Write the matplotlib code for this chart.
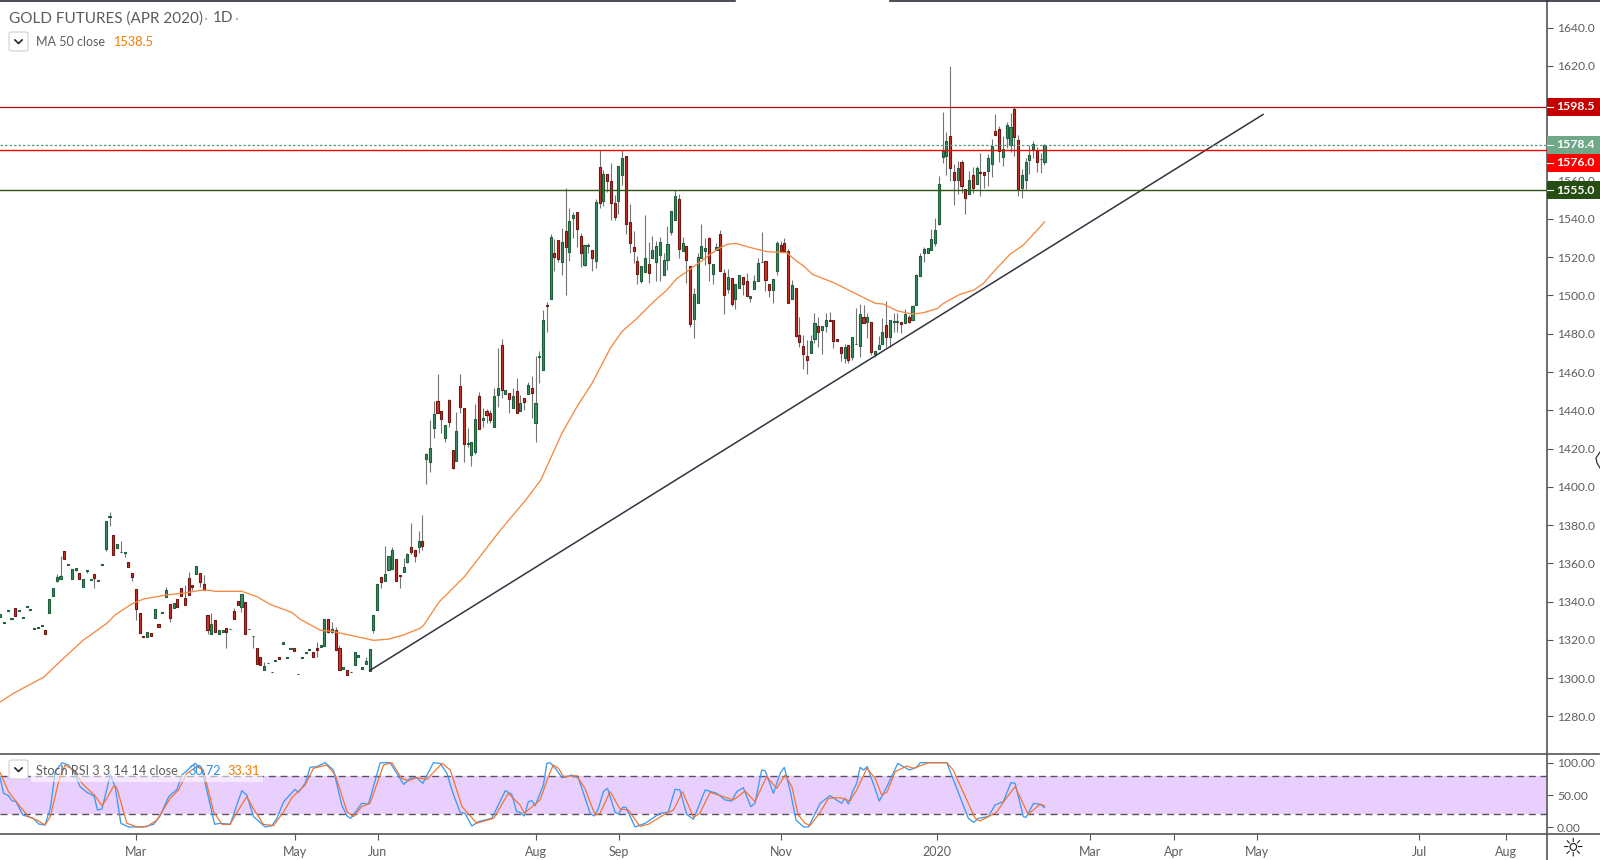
import matplotlib
matplotlib.use("Agg")
import matplotlib.pyplot as plt
from matplotlib.lines import Line2D
from matplotlib.patches import Rectangle, FancyBboxPatch

plt.rcParams['font.family'] = ['Lato', 'DejaVu Sans']

#%% Data #####################################################################
opens = [
    1332.2,1329.0,1335.3,1331.1,1336.5,1335.3,1331.7,1337.4,1335.8,1325.9,
    1326.4,1327.5,1325.0,1333.9,1343.2,1351.0,1352.0,1366.3,1359.4,1352.0,
    1356.6,1354.8,1347.5,1356.2,1351.5,1354.3,1351.0,1359.4,1367.4,1384.4,
    1374.7,1368.3,1365.9,1365.6,1360.6,1354.8,1346.5,1333.9,1321.8,1321.7,
    1323.5,1331.3,1328.2,1334.3,1342.3,1338.6,1336.5,1341.3,1347.0,1341.8,
    1352.2,1348.6,1354.7,1354.8,1349.1,1332.9,1323.0,1330.3,1323.0,1324.0,
    1326.1,1325.5,1335.0,1340.2,1337.4,1339.7,1325.5,1322.0,1315.6,1310.9,
    1304.2,1307.7,1303.0,1309.2,1310.9,1317.8,1310.8,1315.5,1315.6,1302.0,
    1310.8,1313.4,1315.0,1313.6,1315.6,1316.2,1316.7,1330.8,1324.0,1325.1,
    1315.6,1304.7,1304.2,1303.0,1306.8,1310.9,1304.7,1307.3,1303.6,1325.1,
    1335.5,1353.1,1350.7,1356.4,1356.9,1362.1,1353.8,1355.4,1360.6,1368.4,
    1366.9,1368.4,1371.7,1414.4,1412.8,1430.6,1444.7,1439.4,1425.3,1445.2,
    1419.0,1413.3,1452.5,1441.0,1422.2,1416.4,1418.0,1447.3,1434.7,1439.4,
    1438.4,1431.1,1447.8,1473.9,1448.3,1448.8,1441.0,1449.9,1439.4,1446.2,
    1448.3,1451.9,1433.2,1468.0,1460.9,1494.9,1498.0,1522.0,1528.8,1517.3,
    1533.5,1522.5,1540.3,1543.4,1530.9,1515.7,1526.1,1523.6,1517.8,1566.9,
    1549.2,1563.3,1559.6,1548.1,1549.2,1562.7,1572.7,1538.2,1525.1,1517.8,
    1507.4,1512.1,1516.2,1519.4,1517.3,1520.9,1510.5,1518.3,1533.0,1539.7,
    1550.2,1523.0,1525.6,1515.2,1487.5,1495.9,1519.4,1523.5,1529.8,1511.0,
    1523.6,1531.9,1511.5,1503.2,1508.9,1498.3,1503.7,1509.4,1507.4,1498.5,
    1503.2,1507.4,1517.5,1517.8,1505.8,1502.7,1512.6,1526.2,1527.2,1523.5,
    1497.9,1503.7,1479.1,1473.4,1468.2,1470.1,1477.1,1483.8,1481.8,1483.8,
    1487.0,1487.0,1477.1,1472.9,1467.1,1473.9,1467.6,1474.4,1473.4,1488.5,
    1486.4,1486.4,1469.2,1471.8,1474.4,1484.4,1478.1,1486.3,1486.3,1486.4,
    1485.4,1488.5,1487.0,1495.2,1510.0,1522.0,1522.0,1523.6,1527.2,1537.6,
    1572.1,1573.0,1583.1,1564.3,1560.1,1569.5,1555.4,1552.8,1562.7,1558.0,
    1564.3,1564.3,1564.8,1568.5,1586.2,1586.8,1572.1,1582.1,1578.8,1597.7,
    1581.5,1555.9,1560.1,1570.6,1576.3,1575.3,1571.2,1569.5]
closes = [
    1333.4,1329.2,1335.5,1331.3,1332.7,1335.5,1331.9,1337.6,1336.0,1326.1,
    1326.6,1327.7,1322.9,1341.3,1347.0,1352.7,1353.3,1362.5,1359.6,1356.9,
    1357.4,1352.0,1351.7,1356.4,1351.7,1352.6,1351.2,1359.6,1382.0,1385.0,
    1364.6,1370.0,1366.2,1365.9,1358.3,1353.1,1336.0,1323.8,1321.5,1324.0,
    1322.3,1336.0,1327.0,1334.5,1346.0,1331.3,1339.2,1337.4,1343.2,1338.0,
    1343.3,1347.9,1358.5,1350.5,1345.9,1325.1,1328.2,1324.0,1325.1,1325.1,
    1324.0,1325.7,1331.1,1338.1,1343.9,1323.0,1325.7,1322.2,1307.3,1306.8,
    1306.2,1307.9,1303.2,1309.4,1309.9,1318.8,1311.0,1315.7,1314.1,1302.2,
    1311.0,1313.6,1315.2,1310.9,1315.0,1317.2,1330.8,1324.4,1325.6,1314.6,
    1304.2,1305.7,1301.5,1303.2,1313.6,1312.0,1305.7,1308.9,1315.1,1332.9,
    1349.1,1350.1,1354.3,1363.7,1366.9,1350.7,1353.3,1358.0,1364.8,1365.8,
    1363.7,1371.6,1369.1,1417.0,1420.1,1437.9,1438.4,1435.3,1432.1,1434.0,
    1410.0,1429.0,1441.9,1422.2,1422.9,1423.2,1435.3,1430.0,1435.8,1437.3,
    1434.7,1447.3,1451.9,1450.4,1450.4,1445.7,1447.3,1438.4,1443.6,1444.1,
    1453.0,1448.8,1443.6,1468.2,1487.0,1494.6,1530.3,1520.2,1519.2,1527.7,
    1525.1,1538.7,1541.8,1534.5,1522.0,1526.2,1526.3,1519.4,1548.6,1548.1,
    1563.3,1560.0,1548.1,1540.8,1567.4,1571.6,1537.1,1527.2,1523.0,1511.0,
    1515.2,1519.4,1511.5,1523.6,1525.6,1527.7,1518.3,1526.7,1543.9,1551.8,
    1524.1,1527.2,1518.3,1484.9,1500.6,1519.9,1525.6,1524.6,1516.8,1516.2,
    1525.1,1512.9,1500.4,1509.4,1495.7,1505.8,1510.5,1505.8,1499.9,1499.5,
    1507.4,1516.8,1517.7,1507.9,1502.7,1508.4,1527.2,1523.2,1523.5,1495.9,
    1505.3,1478.6,1475.5,1469.2,1466.1,1476.0,1485.4,1480.7,1483.8,1487.0,
    1486.7,1476.0,1476.0,1469.7,1472.9,1466.1,1478.1,1474.6,1490.1,1485.4,
    1488.5,1470.3,1470.8,1473.9,1480.7,1478.1,1487.0,1486.5,1486.5,1484.9,
    1490.1,1486.4,1494.3,1510.5,1520.4,1524.1,1524.6,1529.3,1534.0,1558.5,
    1575.4,1580.5,1566.4,1560.6,1566.4,1557.0,1550.7,1560.1,1556.4,1566.4,
    1564.0,1562.7,1571.6,1577.9,1583.6,1575.3,1576.3,1588.9,1587.8,1582.6,
    1555.4,1562.7,1570.0,1573.2,1579.4,1570.0,1571.5,1578.4]
highs = [
    1333.4,1329.2,1335.5,1331.3,1336.5,1335.5,1331.9,1337.6,1336.0,1326.1,
    1326.6,1327.7,1325.0,1341.3,1347.0,1354.3,1363.9,1366.3,1359.6,1356.9,
    1357.4,1354.8,1351.7,1356.4,1351.7,1354.3,1351.2,1359.6,1382.0,1386.7,
    1374.7,1370.0,1371.7,1365.9,1360.6,1354.8,1346.5,1333.9,1321.8,1324.0,
    1323.5,1336.0,1328.2,1334.5,1347.7,1338.6,1339.2,1341.3,1347.0,1348.7,
    1355.4,1348.6,1358.5,1354.8,1354.0,1332.9,1333.9,1330.3,1325.1,1325.1,
    1326.1,1325.7,1336.5,1340.2,1343.9,1339.7,1325.7,1322.2,1315.6,1310.9,
    1308.3,1307.9,1303.2,1309.4,1310.9,1318.8,1311.0,1315.7,1315.6,1302.2,
    1311.0,1313.6,1315.2,1313.6,1318.8,1317.2,1330.8,1330.8,1329.2,1327.0,
    1317.4,1305.7,1304.2,1303.2,1313.6,1312.0,1305.7,1310.9,1315.1,1332.9,
    1349.1,1353.1,1369.1,1363.7,1368.4,1362.1,1353.8,1362.7,1365.5,1381.0,
    1366.9,1377.0,1385.3,1417.5,1434.9,1444.8,1458.9,1439.4,1432.1,1445.9,
    1419.0,1439.1,1458.9,1441.0,1430.5,1423.2,1443.3,1449.5,1441.0,1440.5,
    1440.1,1451.4,1472.3,1477.0,1450.4,1448.8,1451.4,1456.7,1448.0,1446.2,
    1454.9,1457.9,1468.3,1471.1,1492.4,1496.4,1532.1,1529.6,1528.8,1535.0,
    1556.0,1545.5,1543.8,1543.4,1532.4,1526.2,1527.6,1523.6,1550.2,1576.0,
    1565.5,1563.3,1569.0,1552.5,1567.4,1576.0,1572.7,1547.8,1533.6,1520.6,
    1515.2,1542.0,1528.1,1531.0,1528.4,1530.7,1522.0,1536.3,1543.9,1555.1,
    1553.0,1530.3,1525.6,1515.2,1503.7,1522.3,1537.3,1530.0,1530.7,1516.2,
    1527.2,1534.2,1513.6,1513.6,1508.9,1505.8,1510.5,1509.4,1511.5,1499.5,
    1510.7,1519.4,1533.0,1517.8,1505.8,1508.4,1528.4,1528.6,1529.8,1524.2,
    1508.1,1503.7,1488.5,1479.3,1476.7,1479.3,1490.6,1488.9,1483.8,1490.6,
    1491.5,1487.0,1477.1,1472.9,1474.6,1473.9,1478.1,1493.2,1495.5,1495.0,
    1490.6,1486.4,1470.8,1478.8,1488.4,1497.1,1487.0,1490.6,1490.6,1486.4,
    1492.7,1489.8,1495.0,1511.0,1522.0,1525.1,1524.6,1534.5,1540.3,1562.4,
    1596.0,1585.2,1619.9,1568.6,1570.2,1571.0,1555.4,1565.0,1567.3,1567.8,
    1574.7,1564.3,1573.9,1581.7,1594.6,1588.5,1583.3,1590.8,1595.6,1598.5,
    1584.1,1565.9,1571.6,1578.6,1580.7,1577.4,1574.2,1578.9]
lows = [
    1332.2,1329.0,1335.3,1331.1,1332.7,1335.3,1331.7,1337.4,1335.8,1325.9,
    1326.4,1327.5,1322.9,1333.9,1343.2,1350.5,1352.0,1362.1,1359.4,1352.0,
    1356.0,1352.0,1347.5,1355.2,1351.5,1347.0,1351.0,1359.4,1366.3,1379.7,
    1364.6,1368.3,1365.9,1363.5,1358.3,1351.0,1330.5,1323.8,1321.5,1321.7,
    1322.3,1331.3,1327.0,1334.3,1342.3,1329.6,1336.5,1337.4,1343.2,1338.0,
    1343.3,1346.1,1354.7,1347.9,1345.9,1323.1,1323.0,1324.0,1323.0,1324.0,
    1316.0,1325.5,1331.1,1338.1,1334.8,1323.0,1325.5,1316.0,1307.3,1306.8,
    1304.2,1307.7,1303.0,1309.2,1309.9,1317.8,1310.8,1315.5,1314.1,1302.0,
    1310.8,1313.4,1315.0,1310.9,1311.3,1316.2,1316.7,1323.5,1323.5,1314.6,
    1304.2,1304.7,1301.5,1303.0,1306.8,1310.9,1304.7,1307.3,1303.6,1323.8,
    1335.5,1347.3,1350.7,1356.4,1356.9,1350.7,1347.0,1355.4,1360.0,1365.0,
    1360.9,1365.6,1367.0,1401.5,1407.9,1425.7,1438.4,1427.9,1423.6,1431.1,
    1409.1,1413.3,1438.4,1413.1,1421.0,1411.0,1417.0,1430.0,1431.1,1433.2,
    1433.2,1431.1,1441.9,1446.2,1448.3,1438.7,1441.0,1438.4,1439.4,1440.1,
    1448.3,1435.8,1423.6,1454.4,1460.9,1481.0,1498.0,1512.8,1517.6,1510.7,
    1500.2,1518.2,1529.8,1525.5,1514.7,1515.4,1522.0,1512.9,1514.1,1545.8,
    1546.7,1554.2,1539.7,1539.7,1542.5,1557.7,1532.1,1522.0,1516.8,1505.8,
    1506.3,1512.1,1506.3,1519.4,1507.7,1507.7,1510.5,1513.3,1531.6,1539.7,
    1519.5,1523.0,1506.3,1483.7,1477.9,1495.9,1519.4,1516.0,1507.7,1506.0,
    1523.6,1512.9,1490.1,1501.1,1494.6,1492.7,1503.7,1500.2,1499.9,1496.7,
    1503.2,1507.4,1517.5,1502.5,1499.0,1495.9,1510.7,1523.2,1523.5,1495.9,
    1497.9,1478.4,1473.2,1461.4,1458.8,1470.1,1475.0,1473.0,1469.4,1481.0,
    1486.7,1472.3,1476.0,1466.0,1464.5,1464.5,1466.3,1474.4,1468.0,1485.4,
    1478.0,1468.9,1468.0,1471.8,1474.4,1473.0,1473.2,1481.0,1481.0,1480.2,
    1485.4,1485.4,1487.0,1495.2,1510.0,1517.6,1522.0,1523.6,1525.8,1536.8,
    1569.0,1562.9,1559.9,1547.2,1552.8,1553.3,1542.7,1552.8,1553.7,1558.0,
    1552.1,1556.3,1557.3,1562.0,1583.6,1569.9,1567.8,1577.0,1574.9,1573.0,
    1552.1,1550.7,1555.6,1563.6,1571.6,1564.6,1564.1,1568.1]

ma_bars = [0,3.5,11.5,16.8,22.1,28.3,30.5,34.9,38,44.2,49.5,53,55.7,57,64.1,68.1,71.6,
           77.4,79.6,84.9,88.4,93.7,99,103,107,111.4,112.3,116.4,123.2,132.6,139.4,143.4,
           149,153,157,161.8,164.9,168.9,173.3,176.8,179.5,182.1,185.7,190.1,192.8,195,
           198.9,203.4,208.7,210.9,213.1,215.5,221,226.8,232.1,234.3,237.9,241.8,244.9,
           248.6,250.2,254.6,258.2,260.8,263.5,267.9,271.3,275.9,277]
ma_vals = [1287.6,1292.1,1300.5,1310.4,1320,1328.7,1333.1,1338.8,1341.4,1343.5,1344.7,1345.9,
           1345.9,1345.4,1345.4,1342.6,1338.6,1334.3,1330.8,1325.1,1324.4,1322.1,1319.8,1320.4,
           1322.6,1326.1,1327.6,1339.8,1353.2,1377.2,1393.1,1403.6,1428,1441.9,1454.1,1472.3,
           1481.1,1488,1496.7,1502.8,1508.9,1512.4,1517.6,1524,1526.7,1527.2,1525.1,1522.9,
           1522.3,1518.5,1515.4,1511,1506.8,1501.1,1495.9,1495.5,1492,1490.3,1491,1493.2,
           1495.9,1500.6,1502.8,1506.3,1512.4,1521.6,1526.2,1535.9,1538.5]

k_bars = [0,0.9,2.2,3.1,4.2,6,8.8,10.2,11.9,13.3,14.6,16.4,18.1,19.6,21.2,23,24.9,25.8,27,
          29.2,30.5,32,34,38,40.7,42.4,44.7,46.9,48.2,51.7,53.5,55.3,56.9,58.4,61,64.1,65.4,
          67.2,70.3,72.1,73.4,75.2,78.2,79.1,80.9,82.2,84,86.2,88.4,90.6,92,93,95.9,97.7,
          100.8,103.4,105.2,107,108.8,110.5,112.1,114.9,116.7,118.5,120.1,122,123.3,125.1,
          126.9,130.4,134,135.7,137,137.9,139,140.1,141,141.9,144.1,145,145.9,147.6,149,
          150.3,151.6,153.4,156.5,157.5,158.7,160,161.1,163.1,164,165.1,166,168.4,171.1,
          175,177.2,179,180.3,182.1,183.9,187,190.1,192.3,194,195.4,197.1,199.1,200.2,202,
          202.9,205.1,206.9,208,209.5,211.1,213.1,214.4,217.5,220.1,223.2,224.1,225,226.3,
          227.2,228.1,229,230,233.2,235.2,238.1,239.1,241.2,243.1,244,251.1,256.8,258.2,
          259.5,262.1,263.9,266.1,268.1,269.2,271.4,272.1,274.1,275.9,277]
k_vals = [75.8,52.6,49,41.2,39.7,19,13.9,5.1,3.6,29.4,86.1,100,96.5,85.1,62.9,54.1,48.5,26.8,
          28.4,81,62.9,6.2,0.5,0.5,4.6,17.5,47.4,58.8,81,99,89.8,44.9,4.6,6.2,4.6,56.7,50,
          16.5,0.5,2.6,13.9,39.7,58.8,54.1,68.1,92.8,93.9,100,88.7,34.5,17.5,13.9,37.1,36.1,
          100,100,83.6,66.5,75.8,76.9,68.1,100,99,83.6,52.6,23.2,21.6,2,8.7,13.9,56.7,51,
          24.2,23.2,17.5,39.7,41.2,33.5,65.5,99,100,88.7,76.9,78.4,81,75.8,21.6,17.5,29.4,
          55.2,60.3,23.2,20.6,30.9,30.9,0.5,6.2,21.6,23.2,58.8,57.8,20.1,12.4,57.8,52.6,
          42.3,40.7,55.2,61.4,32,37.1,88.7,87.7,52.6,83.6,92.8,57.8,11.3,0.5,0.5,37.1,49,
          37.1,44.9,36.1,57.8,68.1,92.8,88.7,93.9,40.7,62.9,99,95.4,88.7,92.8,100,100,13.9,
          7.7,13.9,16.5,34.5,39.7,69.1,68.1,16.5,15.4,37.1,35.5,30.72]
d_bars = [0,2.2,5.3,7.5,9.7,11.9,13.3,15.5,17.2,19.5,21.7,25.2,27,28.3,30.1,30.9,33.6,36.3,
          38.9,41.6,45.1,47.3,49.5,52.2,53.9,56.6,58.8,61,63.2,65.4,67.2,69.8,72.5,75.2,77.4,
          80.9,83.1,86.6,88.9,92,93.7,95.9,98.1,101.7,103.9,106.5,108.3,110.5,113.2,117.2,
          119.4,122.5,126.4,130.9,134.8,137.9,139,143.2,145.4,146.7,148.1,149.4,152.9,155.1,
          157.8,159.1,161.8,164.4,166.6,169.7,171.9,175.9,178.6,181,183.9,185.6,188.3,194.5,
          197.6,200.2,203.3,206,208.2,210,211.7,213.5,214.8,217.5,219.7,222.8,225.4,227.2,
          229.9,232.1,233.8,235.2,237.4,240.5,242.2,246.2,251.1,252.8,258.6,259.9,264.3,
          266.5,269.2,272.7,275.9,277]
d_vals = [84.6,55.2,32,16.5,11.3,3.6,16.5,70.7,96.5,88.7,68.1,48.5,33.5,44.9,63.9,61.9,6.2,
          0.5,1,11.3,44.9,57.8,83.6,93.9,88.7,24.2,4.6,4.6,26.8,47.4,28.4,4.6,2.6,24.2,45.9,
          65.5,91.3,96.5,81,24.2,16.5,32,37.1,96.5,100,75.8,72.2,76.9,74.3,99,88.7,32,6.2,
          13.9,52.6,34.5,21.6,42.3,78.4,96.5,91.3,78.4,80,60.3,19,21.6,55.2,28.4,26.8,1.5,
          4.6,19,26.8,55.2,15.4,21.6,54.1,42.3,56.2,39.7,78.4,60.3,81,62.9,19,6.2,2.6,23.2,
          44.9,45.9,40.7,57.8,91.3,75.8,50,54.1,86.1,94.9,91.3,100,100,88.7,13.9,9.8,23.2,
          42.3,62.9,20.1,36,33.31]

trend_bars = [98, 335]
trend_vals = [1304, 1594.6]

price_ticks = list(range(1280, 1660, 20))
stoch_ticks = [0, 50, 100]
month_ticks = [36, 78.2, 100.2, 142.1, 164.1, 207.1, 248.5, 289, 311.4, 333.4, 376.4, 399.4]
month_labels = ['Mar', 'May', 'Jun', 'Aug', 'Sep', 'Nov', '2020', 'Mar', 'Apr', 'May', 'Jul', 'Aug']

# label text, y of the box centre in pixels, box colour
price_labels = ['1598.5', '1578.4', '1576.0', '1555.0']
label_rows = [107, 145, 163, 190]
label_colors = ['#C40000', '#6FA98A', '#FF0000', '#264D12']

#%% Figure ###################################################################
W, H = 1600, 860
TXT = '#5d5d5d'
LINE = '#555555'


def fx(px):
    return px / W


def fy(py):
    return 1 - py / H


fig = plt.figure(figsize=(W / 100, H / 100), dpi=100, facecolor='white')
ax = fig.add_axes([0, fy(754), 1547 / W, 754 / H])
sub = fig.add_axes([0, fy(834), 1547 / W, 80 / H])

bars = list(range(len(opens)))
up = [c >= o for o, c in zip(opens, closes)]
ax.vlines(bars, lows, highs, color='#757575', lw=0.8, zorder=2)
ax.bar(bars, [abs(c - o) for o, c in zip(opens, closes)], bottom=[min(o, c) for o, c in zip(opens, closes)],
       width=0.55, color=['#3E8E66' if u else '#C8372B' for u in up],
       edgecolor=['#1F5C3A' if u else '#701512' for u in up], linewidth=0.8, zorder=3)
ax.plot(ma_bars, ma_vals, color='#F58A42', lw=0.95, zorder=4)
ax.plot(trend_bars, trend_vals, color='#333340', lw=1.1, zorder=4)

ax.axhline(1598.5, color='#A80F0F', lw=0.9, zorder=5)
ax.axhline(1578.4, color='#5E9B7C', lw=0.9, ls=(0, (2, 1.6)), zorder=5)
ax.axhline(1576.0, color='#F00000', lw=1.0, zorder=5)
ax.axhline(1555.0, color='#2B5510', lw=1.0, zorder=5)

ax.set_xlim(-0.05, 410.3)
ax.set_ylim(1260.4, 1654.4)
sub.set_xlim(-0.05, 410.3)
sub.set_ylim(-10.4, 113.5)

sub.axhspan(20, 80, xmin=0, xmax=0.9994, color='#E9CFFD', lw=0, zorder=1)
sub.axhline(80, color='#5a5060', lw=1, ls=(0, (5, 3.4)), zorder=2)
sub.axhline(20, color='#5a5060', lw=1, ls=(0, (5, 3.4)), zorder=2)
sub.plot(k_bars, k_vals, color='#3D9BF2', lw=0.95, zorder=3)
sub.plot(d_bars, d_vals, color='#F2702A', lw=0.85, zorder=4)

for a in (ax, sub):
    for side in ('left', 'top', 'bottom'):
        a.spines[side].set_visible(False)
    a.spines['right'].set_color(LINE)
    a.spines['right'].set_linewidth(1.2)
    a.yaxis.tick_right()
    a.tick_params(axis='y', length=4.2, width=0.8, color=LINE, labelcolor=TXT, labelsize=8.7, pad=3)

ax.set_xticks([])
ax.set_yticks(price_ticks)
ax.set_yticklabels(['%.1f' % p for p in price_ticks])
sub.set_yticks(stoch_ticks)
sub.set_yticklabels(['%.2f' % s for s in stoch_ticks])
sub.set_xticks(month_ticks)
sub.set_xticklabels(month_labels)
sub.tick_params(axis='x', length=4, width=0.8, color=LINE, labelcolor=TXT, labelsize=9, pad=5)

# frame lines outside the panes
frame = [([0, W], [754, 754], LINE), ([0, W], [834, 834], LINE), ([1547, 1547], [834, H], LINE),
         ([0, 735], [0.5, 0.5], '#2a2e39'), ([890, W], [0.5, 0.5], '#2a2e39')]
for xs, ys, col in frame:
    fig.add_artist(Line2D([fx(v) for v in xs], [fy(v) for v in ys], color=col, lw=1.2, zorder=6))

# price labels on the scale
for text, row, col in zip(price_labels, label_rows, label_colors):
    fig.add_artist(Rectangle((fx(1547), fy(row + 9)), 53 / W, 18 / H, color=col, lw=0, zorder=7))
    fig.add_artist(Line2D([fx(1547), fx(1553)], [fy(row), fy(row)], color='white', lw=0.8, zorder=8))
    fig.text(fx(1556.5), fy(row), text, color='white', fontsize=8.8, fontweight='bold', va='center', zorder=8)

# legends
fig.text(fx(9), fy(18.5), 'GOLD FUTURES (APR 2020)', color=TXT, fontsize=11, va='center')
fig.text(fx(203), fy(18.5), '·', color='#aaaaaa', fontsize=11, va='center')
fig.text(fx(213), fy(18.5), '1D', color=TXT, fontsize=11, va='center')
fig.text(fx(234), fy(18.5), '·', color='#aaaaaa', fontsize=11, va='center')
fig.text(fx(36), fy(41.5), 'MA 50 close', color=TXT, fontsize=9, va='center')
fig.text(fx(113), fy(41.5), '1538.5', color='#F57C00', fontsize=9.2, va='center')

fig.add_artist(Rectangle((fx(31), fy(782)), 232 / W, 7 / H, color='white', alpha=0.55, lw=0, zorder=6))
fig.text(fx(36), fy(771), 'Stoch RSI 3 3 14 14 close', color=TXT, fontsize=9.1, va='center', zorder=7)
fig.text(fx(188), fy(771), '30.72', color='#2E8FEA', fontsize=9.2, va='center', zorder=7)
fig.text(fx(227), fy(771), '33.31', color='#F57C00', fontsize=9.2, va='center', zorder=7)

for top in (32, 760):
    fig.add_artist(FancyBboxPatch((fx(9), fy(top + 19)), 19 / W, 19 / H, boxstyle='round,pad=0,rounding_size=0.002',
                                  fc='white', ec='#d0d0d0', lw=0.8, zorder=7))
    fig.add_artist(Line2D([fx(15), fx(18.5), fx(22)], [fy(top + 8), fy(top + 11.5), fy(top + 8)],
                          color='#222222', lw=1.2, zorder=8))

# settings icon and the stray cursor on the scale
fig.text(fx(1573.5), fy(848.5), '☼', color='#222222', fontsize=18, ha='center', va='center', family='DejaVu Sans')
fig.add_artist(Line2D([fx(1600), fx(1596), fx(1597), fx(1600)], [fy(452), fy(458), fy(463), fy(468)],
                      color='#333333', lw=0.9, zorder=8))

fig.savefig('out.png', dpi=100, facecolor='white')
